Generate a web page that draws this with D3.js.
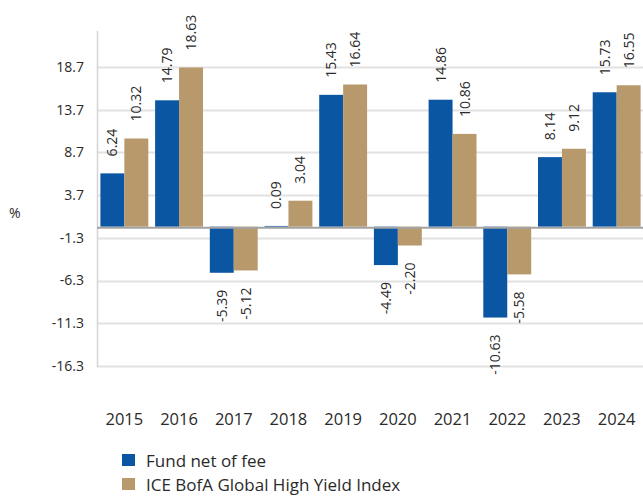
<!DOCTYPE html>
<html lang="en">
<head>
    <meta charset="UTF-8">
    <title>Fund vs Index annual returns</title>
    <style>
        body {
            margin: 0;
            padding: 0;
            background-color: #fff;
            font-family: "Open Sans", Arial, sans-serif;
        }
        svg text {
            fill: #2a2a2a;
        }
    </style>
</head>
<body>
<svg width="643" height="496" id="chart"></svg>

<script src="https://d3js.org/d3.v7.min.js"></script>
<script>
    // data
    const years = ["2015", "2016", "2017", "2018", "2019", "2020", "2021", "2022", "2023", "2024"];
    const fundValues = [6.24, 14.79, -5.39, 0.09, 15.43, -4.49, 14.86, -10.63, 8.14, 15.73];
    const indexValues = [10.32, 18.63, -5.12, 3.04, 16.64, -2.20, 10.86, -5.58, 9.12, 16.55];
    const yTicks = [-16.3, -11.3, -6.3, -1.3, 3.7, 8.7, 13.7, 18.7];
    const seriesNames = ["Fund net of fee", "ICE BofA Global High Yield Index"];
    const colors = ["#0a56a3", "#b8996b"];

    const svg = d3.select("#chart");

    const x0 = d3.scaleBand()
        .domain(years)
        .range([97, 644])
        .padding(0);

    const x1 = d3.scaleBand()
        .domain([0, 1])
        .range([3.4, x0.bandwidth() - 3.4])
        .padding(0);

    const y = d3.scaleLinear()
        .domain([-16.3, 22.9])
        .range([366, 31]);

    // grid lines
    svg.append("g")
        .selectAll("line")
        .data(yTicks)
        .enter().append("line")
        .attr("x1", 97)
        .attr("x2", 643)
        .attr("y1", d => Math.round(y(d)) + 0.5)
        .attr("y2", d => Math.round(y(d)) + 0.5)
        .attr("stroke", "#e2e2e2")
        .attr("stroke-width", 2);

    // tick labels
    svg.append("g")
        .selectAll("text")
        .data(yTicks)
        .enter().append("text")
        .attr("x", 84)
        .attr("y", d => y(d))
        .attr("dy", "0.35em")
        .attr("text-anchor", "end")
        .style("font-size", "14px")
        .text(d => d.toFixed(1));

    // y axis line
    svg.append("line")
        .attr("x1", 97.5)
        .attr("x2", 97.5)
        .attr("y1", 31)
        .attr("y2", 367)
        .attr("stroke", "#d4d4d4")
        .attr("stroke-width", 1.5);

    svg.append("text")
        .attr("x", 9)
        .attr("y", 218)
        .style("font-size", "14px")
        .text("%");

    const data = years.map((yr, i) => ({ year: yr, values: [fundValues[i], indexValues[i]] }));

    const groups = svg.append("g")
        .selectAll("g")
        .data(data)
        .enter().append("g")
        .attr("transform", d => `translate(${x0(d.year)},0)`);

    groups.selectAll("rect")
        .data(d => d.values.map((v, k) => ({ k: k, v: v })))
        .enter().append("rect")
        .attr("x", d => x1(d.k))
        .attr("y", d => y(Math.max(0, d.v)))
        .attr("width", x1.bandwidth())
        .attr("height", d => Math.abs(y(d.v) - y(0)))
        .attr("fill", d => colors[d.k]);

    // value labels, rotated
    groups.selectAll("text")
        .data(d => d.values.map((v, k) => ({ k: k, v: v })))
        .enter().append("text")
        .attr("transform", d => {
            const cx = x1(d.k) + x1.bandwidth() / 2;
            const ty = d.v >= 0 ? y(d.v) - 17 : y(d.v) + 17;
            return `translate(${cx + 5},${ty}) rotate(-90)`;
        })
        .attr("text-anchor", d => d.v >= 0 ? "start" : "end")
        .style("font-size", "14px")
        .text(d => d.v.toFixed(2));

    // zero line
    svg.append("line")
        .attr("x1", 97)
        .attr("x2", 643)
        .attr("y1", y(0) + 1)
        .attr("y2", y(0) + 1)
        .attr("stroke", "#a3a3a3")
        .attr("stroke-width", 2);

    // year labels
    svg.append("g")
        .selectAll("text")
        .data(years)
        .enter().append("text")
        .attr("x", d => x0(d) + x0.bandwidth() / 2)
        .attr("y", 425)
        .attr("text-anchor", "middle")
        .style("font-size", "16.5px")
        .text(d => d);

    // legend
    const legend = svg.append("g")
        .selectAll("g")
        .data(seriesNames)
        .enter().append("g")
        .attr("transform", (d, i) => `translate(122,${454 + i * 24})`);

    legend.append("rect")
        .attr("width", 13)
        .attr("height", 12)
        .attr("fill", (d, i) => colors[i]);

    legend.append("text")
        .attr("x", 24)
        .attr("y", 12.5)
        .style("font-size", "17px")
        .text(d => d);
</script>
</body>
</html>
